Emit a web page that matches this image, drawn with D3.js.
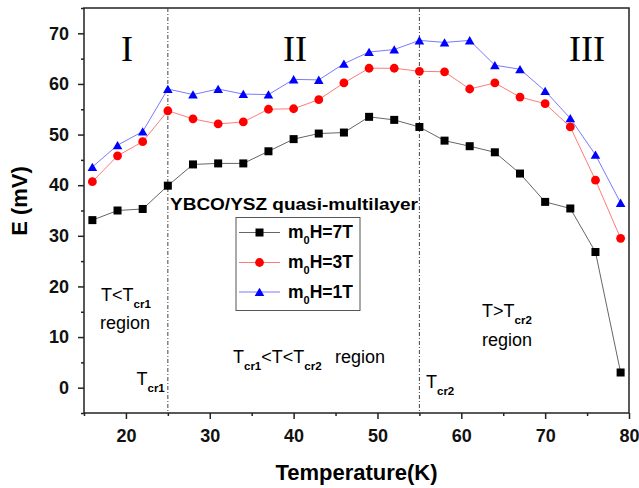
<!DOCTYPE html>
<html>
<head>
<meta charset="utf-8">
<script src="https://cdn.jsdelivr.net/npm/d3@7"></script>
<style>
  body { margin: 0; background: #fff; }
  svg { display: block; font-family: "Liberation Sans", Arial, sans-serif; }
  .axis path, .axis line { stroke: #222; stroke-width: 1.5; }
  .axis text { font-size: 18px; font-weight: bold; fill: #111; }
</style>
</head>
<body>
<svg width="639" height="488"></svg>
<script>
// temperatures (K) and E (mV) for the three fields
const temps = [16, 19, 22, 25, 28, 31, 34, 37, 40, 43, 46, 49, 52, 55, 58, 61, 64, 67, 70, 73, 76, 79];
const e7T = [33.1, 35.0, 35.3, 39.9, 44.1, 44.3, 44.3, 46.7, 49.1, 50.2, 50.4, 53.5, 52.9, 51.5, 48.8, 47.7, 46.5, 42.3, 36.7, 35.4, 26.8, 3.0];
const e3T = [40.7, 45.8, 48.6, 54.7, 53.1, 52.1, 52.5, 55.0, 55.1, 56.9, 60.2, 63.1, 63.1, 62.5, 62.4, 59.0, 60.2, 57.4, 56.1, 51.5, 41.0, 29.5];
const e1T = [43.6, 47.9, 50.6, 59.0, 57.9, 59.0, 58.0, 57.9, 60.9, 60.8, 64.0, 66.3, 66.8, 68.6, 68.2, 68.6, 63.7, 62.9, 58.6, 53.2, 46.0, 36.5];
const fieldLabels = ["7T", "3T", "1T"];
const xTicks = [20, 30, 40, 50, 60, 70, 80];
const xMinor = [15, 25, 35, 45, 55, 65, 75];
const yTicks = [0, 10, 20, 30, 40, 50, 60, 70];
const yMinor = [-5, 5, 15, 25, 35, 45, 55, 65, 75];
const crossovers = [25, 55];

const svg = d3.select("svg");
const mLeft = 84, mRight = 629, mTop = 8, mBottom = 413;

const x = d3.scaleLinear().domain([15, 80]).range([mLeft, mRight]);
const y = d3.scaleLinear().domain([-5, 75]).range([mBottom, mTop]);

const series = [
  {vals: e7T, fill: "#000", line: "#666", shape: "square"},
  {vals: e3T, fill: "#ff0000", line: "#ff7a7a", shape: "circle"},
  {vals: e1T, fill: "#0000ff", line: "#7a7aff", shape: "triangle"}
];

// frame
svg.append("rect")
  .attr("x", mLeft).attr("y", mTop)
  .attr("width", mRight - mLeft).attr("height", mBottom - mTop)
  .attr("fill", "none").attr("stroke", "#222").attr("stroke-width", 1.5);

// axes
svg.append("g").attr("class", "axis")
  .attr("transform", `translate(0,${mBottom})`)
  .call(d3.axisBottom(x).tickValues(xTicks).tickSize(6).tickPadding(10).tickFormat(d3.format("d")))
  .call(g => g.select(".domain").remove());
svg.append("g").attr("class", "axis")
  .attr("transform", `translate(0,${mBottom})`)
  .call(d3.axisBottom(x).tickValues(xMinor).tickSize(3).tickFormat(""))
  .call(g => g.select(".domain").remove());
svg.append("g").attr("class", "axis")
  .attr("transform", `translate(${mLeft},0)`)
  .call(d3.axisLeft(y).tickValues(yTicks).tickSize(6).tickPadding(9).tickFormat(d3.format("d")))
  .call(g => g.select(".domain").remove());
svg.append("g").attr("class", "axis")
  .attr("transform", `translate(${mLeft},0)`)
  .call(d3.axisLeft(y).tickValues(yMinor).tickSize(3).tickFormat(""))
  .call(g => g.select(".domain").remove());

// axis titles
svg.append("text")
  .attr("x", (mLeft + mRight) / 2).attr("y", 480)
  .attr("text-anchor", "middle")
  .style("font-size", "22px").style("font-weight", "bold")
  .text("Temperature(K)");
svg.append("text")
  .attr("transform", "translate(27,201) rotate(-90)")
  .attr("text-anchor", "middle")
  .style("font-size", "22px").style("font-weight", "bold")
  .text("E (mV)");

// crossover lines
svg.selectAll(".cross").data(crossovers).enter()
  .append("line")
  .attr("x1", d => x(d)).attr("x2", d => x(d))
  .attr("y1", mTop).attr("y2", mBottom)
  .attr("stroke", "#444").attr("stroke-width", 1)
  .attr("stroke-dasharray", "4,2,1,2");

function marker(sel, shape, fill) {
  if (shape === "square") {
    sel.append("rect").attr("x", -4).attr("y", -4).attr("width", 8).attr("height", 8)
      .attr("fill", fill);
  } else if (shape === "circle") {
    sel.append("circle").attr("r", 4.4).attr("fill", fill);
  } else {
    sel.append("path").attr("d", "M0,-4.3L4.8,4L-4.8,4Z").attr("fill", fill);
  }
}

const line = d3.line().x((d, i) => x(temps[i])).y(d => y(d));

series.forEach(s => {
  svg.append("path")
    .datum(s.vals)
    .attr("d", line)
    .attr("fill", "none")
    .attr("stroke", s.line)
    .attr("stroke-width", 1);
  svg.append("g").selectAll("g").data(s.vals).enter()
    .append("g")
    .attr("transform", (d, i) => `translate(${x(temps[i])},${y(d)})`)
    .each(function() { marker(d3.select(this), s.shape, s.fill); });
});

// region numerals
const roman = [["I", 127], ["II", 295], ["III", 587]];
svg.selectAll(".roman").data(roman).enter()
  .append("text")
  .attr("x", d => d[1]).attr("y", 61)
  .attr("text-anchor", "middle")
  .style("font-family", "'Liberation Serif', 'Times New Roman', serif")
  .style("font-size", "36px")
  .text(d => d[0]);

// sample label
svg.append("text")
  .attr("x", 170).attr("y", 210)
  .attr("textLength", 248).attr("lengthAdjust", "spacingAndGlyphs")
  .style("font-size", "17px").style("font-weight", "bold")
  .text("YBCO/YSZ quasi-multilayer");

// legend
const legend = svg.append("g");
legend.append("rect")
  .attr("x", 236).attr("y", 217.5).attr("width", 124).attr("height", 93)
  .attr("fill", "#fff").attr("stroke", "#555").attr("stroke-width", 1);
const rowY = [232.5, 262.5, 292];
series.forEach((s, i) => {
  const g = legend.append("g").attr("transform", `translate(0,${rowY[i]})`);
  g.append("line").attr("x1", 239).attr("x2", 280).attr("y1", 0).attr("y2", 0)
    .attr("stroke", s.line).attr("stroke-width", 1);
  marker(g.append("g").attr("transform", "translate(259.5,0)"), s.shape, s.fill);
  const t = g.append("text").attr("x", 288).attr("y", 5.5)
    .style("font-size", "17.5px").style("font-weight", "bold");
  t.append("tspan").text("m");
  t.append("tspan").attr("dy", 6).style("font-size", "11px").text("0");
  t.append("tspan").attr("dy", -6).text("H=" + fieldLabels[i]);
});

// region annotations: T regular, subscripts small bold, "region" regular
function subText(px, py, parts) {
  const t = svg.append("text").attr("x", px).attr("y", py)
    .style("font-size", "18px");
  let shift = 0;
  parts.forEach(p => {
    const sub = p.startsWith("_");
    const dy = sub ? 7 - shift : -shift;
    shift = sub ? 7 : 0;
    t.append("tspan").attr("dy", dy)
      .style("font-size", sub ? "11.5px" : "18px")
      .style("font-weight", sub ? "bold" : "normal")
      .text(sub ? p.slice(1) : p);
  });
  return t;
}
function plain(px, py, s) {
  svg.append("text").attr("x", px).attr("y", py)
    .style("font-size", "18px")
    .text(s);
}

subText(101, 300.5, ["T<T", "_cr1"]);
plain(100, 329, "region");
subText(233, 363, ["T", "_cr1", "<T<T", "_cr2"]);
plain(335, 363, "region");
subText(136.5, 384.5, ["T", "_cr1"]);
subText(482, 316.5, ["T>T", "_cr2"]);
plain(482, 345.5, "region");
subText(426, 388, ["T", "_cr2"]);
</script>
</body>
</html>
